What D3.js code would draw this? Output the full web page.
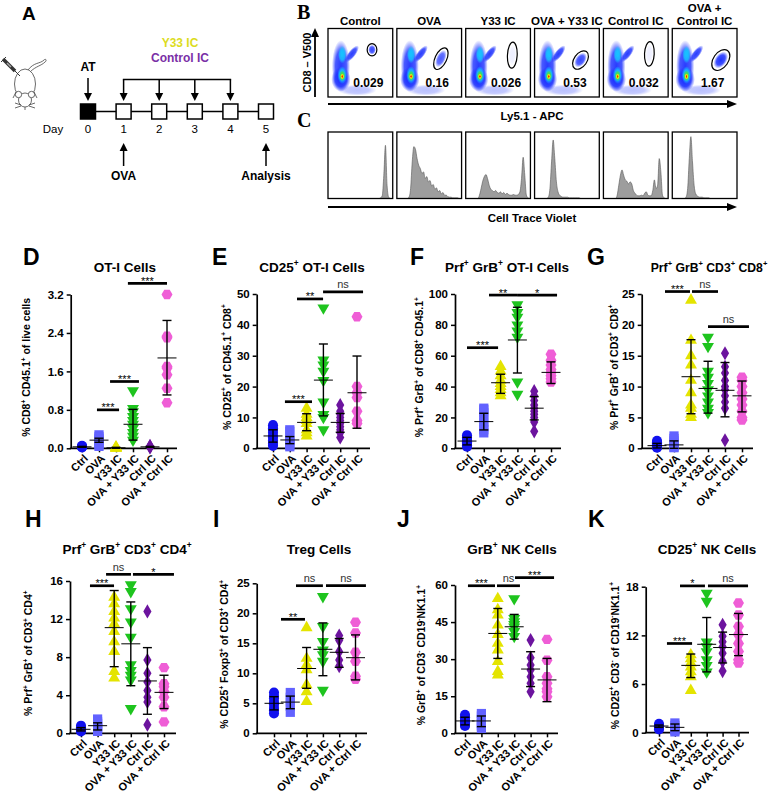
<!DOCTYPE html>
<html>
<head>
<meta charset="utf-8">
<script src="https://cdn.jsdelivr.net/npm/d3@7"></script>
<style>
body { margin: 0; background: #fff; }
svg { display: block; }
</style>
</head>
<body>
<svg id="fig" width="770" height="795"></svg>
<script>
// ---------- data ----------
const groups = ["Ctrl", "OVA", "Y33 IC", "OVA + Y33 IC", "Ctrl IC", "OVA + Ctrl IC"];
const flowGroups = ["Control", "OVA", "Y33 IC", "OVA + Y33 IC", "Control IC", "OVA + Control IC"];
const gatePct = ["0.029", "0.16", "0.026", "0.53", "0.032", "1.67"];

// timeline (panel A)
const days = [0, 1, 2, 3, 4, 5];
const icDays = [1, 2, 3, 4];

// cell trace violet histograms (panel C), 40 bins each, relative height
const ctvHist = [
  [0,0,0,0,0,0,0,0,0,0,0,0,0,0,0,0,0,0,0,0,0,0,0,0,0,0,0,0,0,0,0,0,0.01,0.04,0.35,0.8,0.2,0.02,0,0],
  [0,0,0,0,0,0,0,0.02,0.15,0.55,0.78,0.74,0.6,0.5,0.45,0.38,0.4,0.3,0.33,0.25,0.27,0.19,0.21,0.14,0.16,0.1,0.12,0.07,0.09,0.05,0.05,0.03,0.02,0.02,0.01,0.01,0.01,0.01,0,0],
  [0,0,0,0,0,0,0,0,0.05,0.15,0.26,0.33,0.36,0.3,0.2,0.14,0.12,0.1,0.12,0.09,0.08,0.1,0.07,0.09,0.06,0.08,0.06,0.05,0.05,0.06,0.05,0.05,0.06,0.1,0.3,0.62,0.35,0.05,0.01,0],
  [0,0,0,0,0,0,0,0,0.02,0.15,0.55,0.88,0.6,0.25,0.1,0.05,0.03,0.02,0.02,0.02,0.02,0.01,0.01,0.01,0.01,0.01,0.01,0.01,0,0,0,0,0,0,0,0,0,0,0,0],
  [0,0,0,0,0,0,0,0,0.05,0.2,0.35,0.43,0.35,0.28,0.26,0.22,0.25,0.22,0.12,0.08,0.05,0.04,0.04,0.05,0.04,0.08,0.1,0.05,0.04,0.04,0.12,0.28,0.15,0.2,0.6,0.4,0.05,0.01,0,0],
  [0,0,0,0,0,0,0,0,0.02,0.15,0.6,0.93,0.55,0.2,0.07,0.04,0.02,0.02,0.02,0.01,0.01,0.01,0.01,0,0,0,0,0,0,0,0,0,0,0,0,0,0,0,0,0]
];

// D  OT-I cells
const otiVals = [
  [0.04, 0.03, 0.03, 0.02, 0.05],
  [0.28, 0.24, 0.2, 0.16, 0.12, 0.08, 0.04],
  [0.03, 0.02, 0.01, 0, 0],
  [1.2, 0.83, 0.76, 0.66, 0.58, 0.5, 0.42, 0.33, 0.25, 0.17],
  [0.04, 0.03, 0.02, 0.05],
  [3.2, 2.33, 2.3, 1.7, 1.67, 1.53, 1.25, 0.95]
];
const otiMean = [0.03, 0.17, 0.01, 0.5, 0.03, 1.88];
const otiSd = [[0.02, 0.04], [0.125, 0.21], [0, 0.02], [0.17, 0.81], [0.02, 0.04], [1.11, 2.66]];
const otiSig = [[0.88, 2.18, 0.8, "***"], [1.65, 3.35, 1.39, "***"], [2.7, 5.0, 3.43, "***"]];

// E  CD25+ OT-I cells
const cd25Vals = [
  [7.5, 6.5, 6, 5, 4, 3.5, 2.5, 1.5, 0.8],
  [6, 5.5, 3, 2.5, 2, 1, 0.5],
  [13, 11, 10, 9, 8, 6, 5, 4],
  [45.5, 28.6, 27, 25, 22, 15, 11, 10, 6],
  [14, 12, 11, 10, 9, 8, 7, 6, 5, 3.5],
  [42.6, 20, 18, 16.5, 12, 9, 8]
];
const cd25Mean = [4, 2.7, 8.4, 22.1, 8.4, 18];
const cd25Sd = [[2, 6], [1.5, 3.8], [5.7, 11.2], [10.5, 33.8], [5.2, 11.3], [6.5, 29.9]];
const cd25Sig = [[0.71, 2.32, 15.1, "***"], [1.43, 2.98, 48.4, "**"], [2.98, 5.36, 50.7, "ns"]];

// F  Prf+ GrB+ OT-I cells
const prfOtiVals = [
  [8.5, 7, 6, 5, 4, 3, 2, 1],
  [26, 25, 23, 20, 17, 14, 12, 10],
  [53, 50, 47, 44, 42, 40, 38, 36, 34],
  [93, 88, 85, 80, 76, 72, 43, 35],
  [37, 34, 31, 28, 26, 24, 22, 20, 17, 11],
  [61, 57, 54, 51, 49, 47, 45, 43]
];
const prfOtiMean = [4.7, 17.3, 42.5, 70.2, 26, 49.2];
const prfOtiSd = [[2.2, 7.1], [11.9, 22.7], [35.6, 48], [48.8, 91.4], [18.4, 33.5], [42, 56]];
const prfOtiSig = [[0, 1.85, 65.2, "***"], [1.31, 2.98, 99.3, "**"], [2.98, 5.36, 99.3, "*"]];

// G  Prf+ GrB+ CD3+ CD8+
const prfCd8Vals = [
  [1.2, 1, 0.8, 0.6, 0.4, 0.3, 0.2, 0.1],
  [2, 1.6, 1.2, 0.8, 0.5, 0.2, 0.1],
  [24, 17.5, 15, 13.5, 11, 9, 7, 6.5, 5.5, 5],
  [18, 16.5, 12.5, 11.5, 10.5, 9.5, 8.5, 7.5, 6.5, 5.8],
  [15.4, 13.2, 12.2, 11, 10, 9.5, 8.5, 7.5, 6.5, 1.3],
  [11.5, 11, 10, 9, 8, 7, 6, 5, 4.6]
];
const prfCd8Mean = [0.43, 0.55, 11.6, 9.7, 9.4, 8.5];
const prfCd8Sd = [[0.05, 0.8], [0, 1.2], [5.6, 17.6], [5.7, 14.1], [5.1, 13.9], [5.9, 10.9]];
const prfCd8Sig = [[0.47, 1.94, 25.4, "***"], [2.06, 3.59, 25.4, "ns"], [3.0, 5.41, 19.7, "ns"]];

// H  Prf+ GrB+ CD3+ CD4+
const prfCd4Vals = [
  [0.8, 0.6, 0.5, 0.4, 0.3, 0.2],
  [1.5, 1.2, 1, 0.7, 0.5, 0.2],
  [14.3, 13.6, 12.8, 12.1, 11.5, 10.7, 9.6, 8.6, 6.5, 5.8],
  [15.6, 14.9, 13.1, 11.7, 10.1, 7.2, 6.6, 6.1, 5.6, 2.6],
  [12.8, 7.7, 6.3, 5.4, 4.5, 3.8, 3.3, 0.9],
  [6.9, 5.2, 4.9, 4.4, 3.8, 2.8, 1.2]
];
const prfCd4Mean = [0.42, 0.8, 11.1, 9.4, 5.5, 4.3];
const prfCd4Sd = [[0.25, 0.6], [0.35, 1.1], [7, 15], [5, 13.8], [2, 9], [2.6, 6.1]];
const prfCd4Sig = [[0.54, 1.99, 15.5, "***"], [1.51, 3.01, 16.7, "ns"], [3.13, 5.6, 16.7, "*"]];

// I  Treg cells
const tregVals = [
  [6.8, 6.2, 5.8, 5.2, 4.8, 4.2, 3.8, 3.3],
  [6.8, 6, 5.2, 4.5, 3.5],
  [17.6, 12.5, 11.4, 10.6, 8.1, 6.9, 5.3],
  [22.8, 17.8, 15.3, 13.9, 13.1, 12, 7.2],
  [16.3, 15.5, 13.6, 12.2, 11.2],
  [18.5, 16.7, 13.5, 12, 9.5, 9]
];
const tregMean = [5, 5.2, 10.8, 14, 13.5, 12.6];
const tregSd = [[3.9, 6.1], [4.1, 6.2], [7.5, 14.3], [9.6, 18.4], [11, 15.8], [8.9, 16.4]];
const tregSig = [[0.43, 1.9, 19, "**"], [1.35, 3.0, 24.6, "ns"], [3.19, 5.64, 24.6, "ns"]];

// J  GrB+ NK cells
const grbNkVals = [
  [7.5, 6.5, 5.8, 5, 4.5, 3.8, 3],
  [8, 7, 5.5, 4, 3, 2],
  [54.5, 50, 47.8, 43.8, 40, 36.4, 33.7, 29, 25, 23.6],
  [54.5, 46.5, 45.2, 44, 43, 41.2, 39.2],
  [37.7, 30.6, 27.6, 25.6, 22.9, 20.2, 16.8],
  [38, 29.6, 22.9, 20.2, 18, 16.8, 14.8]
];
const grbNkMean = [5, 5, 40.4, 43.1, 26, 21.6];
const grbNkSd = [[3.4, 6.5], [2.7, 7], [30.3, 50.5], [38.1, 48.1], [18.9, 33], [12.8, 30.3]];
const grbNkSig = [[0.18, 1.83, 59.7, "***"], [1.95, 3.35, 59.7, "ns"], [3.05, 5.43, 63, "***"]];

// K  CD25+ NK cells
const cd25NkVals = [
  [1.1, 0.9, 0.8, 0.6, 0.4],
  [1.2, 0.9, 0.6, 0.3, 0.1],
  [9.6, 9.1, 8.6, 8.1, 7.5, 6.9, 5.2],
  [17.2, 16.2, 11.2, 10.6, 10, 9, 8.3, 7.5],
  [13.3, 11.9, 11.2, 10.6, 9.8, 8.8, 7.6],
  [16, 14.5, 13.1, 12.1, 11, 10, 9, 8.6]
];
const cd25NkMean = [0.82, 0.66, 8.3, 10.9, 10.5, 12.1];
const cd25NkSd = [[0.66, 0.95], [0.25, 1.07], [6.8, 9.7], [7.5, 14.2], [8.6, 12.4], [9.5, 14.7]];
const cd25NkSig = [[0.5, 2.08, 11.0, "***"], [1.32, 2.89, 18.1, "*"], [3.08, 5.6, 18.1, "ns"]];

const panels = [
  { letter: "D", title: "OT-I Cells", ylab: "% CD8^+ CD45.1^+ of live cells", max: 3.2, ticks: [0, 0.8, 1.6, 2.4, 3.2], fmt: ".1f", vals: otiVals, mean: otiMean, sd: otiSd, sig: otiSig },
  { letter: "E", title: "CD25^+ OT-I Cells", ylab: "% CD25^+ of CD45.1^+ CD8^+", max: 50, ticks: [0, 10, 20, 30, 40, 50], fmt: "d", vals: cd25Vals, mean: cd25Mean, sd: cd25Sd, sig: cd25Sig },
  { letter: "F", title: "Prf^+ GrB^+ OT-I Cells", ylab: "% Prf^+ GrB^+ of CD8^+ CD45.1^+", max: 100, ticks: [0, 20, 40, 60, 80, 100], fmt: "d", vals: prfOtiVals, mean: prfOtiMean, sd: prfOtiSd, sig: prfOtiSig },
  { letter: "G", title: "Prf^+ GrB^+ CD3^+ CD8^+", ylab: "% Prf^+ GrB^+ of CD3^+ CD8^+", max: 25, ticks: [0, 5, 10, 15, 20, 25], fmt: "d", vals: prfCd8Vals, mean: prfCd8Mean, sd: prfCd8Sd, sig: prfCd8Sig },
  { letter: "H", title: "Prf^+ GrB^+ CD3^+ CD4^+", ylab: "% Prf^+ GrB^+ of CD3^+ CD4^+", max: 16, ticks: [0, 4, 8, 12, 16], fmt: "d", vals: prfCd4Vals, mean: prfCd4Mean, sd: prfCd4Sd, sig: prfCd4Sig },
  { letter: "I", title: "Treg Cells", ylab: "% CD25^+ Foxp3^+ of CD3^+ CD4^+", max: 25, ticks: [0, 5, 10, 15, 20, 25], fmt: "d", vals: tregVals, mean: tregMean, sd: tregSd, sig: tregSig },
  { letter: "J", title: "GrB^+ NK Cells", ylab: "% GrB^+ of CD3^- CD19^-NK1.1^+", max: 60, ticks: [0, 15, 30, 45, 60], fmt: "d", vals: grbNkVals, mean: grbNkMean, sd: grbNkSd, sig: grbNkSig },
  { letter: "K", title: "CD25^+ NK Cells", ylab: "% CD25^+ CD3^- of CD19^-NK1.1^+", max: 18, ticks: [0, 6, 12, 18], fmt: "d", vals: cd25NkVals, mean: cd25NkMean, sd: cd25NkSd, sig: cd25NkSig }
];

// ---------- layout / style ----------
const SANS = "'Liberation Sans', Arial, Helvetica, sans-serif";
const SERIF = "'Liberation Serif', 'Times New Roman', serif";
const colors = ["#1212ee", "#6262ff", "#e4e400", "#1ec41e", "#6c149e", "#ef5ed6"];
const hexagon = {
  draw(ctx, size) {
    const r = Math.sqrt(size / (3 * Math.sqrt(3) / 2));
    for (let i = 0; i < 6; i++) {
      const a = Math.PI / 3 * i;
      if (i) ctx.lineTo(r * Math.cos(a), r * Math.sin(a)); else ctx.moveTo(r * Math.cos(a), r * Math.sin(a));
    }
    ctx.closePath();
  }
};
const shapes = [d3.symbolCircle, d3.symbolSquare, d3.symbolTriangle, d3.symbolTriangle, d3.symbolDiamond, hexagon];
const shapeSize = [80, 85, 62, 62, 58, 78];
const shapeRot = [0, 0, 0, 180, 0, 0];

const layout = [
  { ax: 70.7, c0: 82, step: 17, top: 294.5, bot: 448.3, end: 177, labX: 30, titleX: 125, titleY: 271.5, titleFs: 13.5, letX: 23, letY: 265 },
  { ax: 256.7, c0: 273, step: 16.8, top: 294, bot: 448.3, end: 370, labX: 230.5, titleX: 312, titleY: 271.5, titleFs: 13.5, letX: 212, letY: 265 },
  { ax: 455, c0: 467, step: 16.8, top: 294, bot: 448.3, end: 561, labX: 423, titleX: 507, titleY: 271.5, titleFs: 13.5, letX: 410, letY: 265 },
  { ax: 641.7, c0: 657, step: 17, top: 294, bot: 448.3, end: 753, labX: 617.5, titleX: 709, titleY: 271.5, titleFs: 12.2, letX: 587, letY: 265 },
  { ax: 70, c0: 81, step: 16.6, top: 581, bot: 733.3, end: 176, labX: 32, titleX: 127, titleY: 554, titleFs: 13.5, letX: 25, letY: 527 },
  { ax: 256.7, c0: 274, step: 16.3, top: 583.3, bot: 733.3, end: 367, labX: 228, titleX: 319, titleY: 554, titleFs: 13.5, letX: 213, letY: 527 },
  { ax: 455, c0: 465, step: 16.4, top: 585, bot: 733.3, end: 558, labX: 425, titleX: 512, titleY: 554, titleFs: 13.5, letX: 397, letY: 527 },
  { ax: 645.7, c0: 659, step: 15.9, top: 586.7, bot: 732.7, end: 749, labX: 618.5, titleX: 707, titleY: 554, titleFs: 13.5, letX: 588, letY: 527 }
];

const svg = d3.select("#fig").attr("font-family", SANS);
const defs = svg.append("defs");

// text with ^+ / ^- superscripts
function rich(textSel, str, fs) {
  const parts = str.split(/(\^[+-])/);
  let up = false;
  parts.forEach(p => {
    if (!p) return;
    if (p[0] === "^") {
      textSel.append("tspan").attr("font-size", fs * 0.62).attr("dy", up ? 0 : -fs * 0.42).text(p[1] === "-" ? "-" : "+");
      up = true;
    } else {
      textSel.append("tspan").attr("dy", up ? fs * 0.42 : 0).text(p);
      up = false;
    }
  });
}

function arrow(g, x1, y1, x2, y2, w, len, sw) {
  const ang = Math.atan2(y2 - y1, x2 - x1);
  const bx = x2 - len * Math.cos(ang), by = y2 - len * Math.sin(ang);
  g.append("line").attr("x1", x1).attr("y1", y1).attr("x2", bx).attr("y2", by)
    .attr("stroke", "#000").attr("stroke-width", sw);
  const px = -Math.sin(ang) * w / 2, py = Math.cos(ang) * w / 2;
  g.append("path").attr("d", `M${x2},${y2}L${bx + px},${by + py}L${bx - px},${by - py}Z`).attr("fill", "#000");
}

// ---------- panel A ----------
const pa = svg.append("g");
pa.append("text").attr("x", 22).attr("y", 19.5).attr("font-size", 19).attr("font-weight", "bold").text("A");

// mouse with syringe
const mouse = pa.append("g").attr("fill", "#fff").attr("stroke", "#444").attr("stroke-width", 0.8);
mouse.append("path").attr("d", "M28,70 C34,62 40,64 44,60 C46,58 47,61 45,62 C41,66 36,66 30,72").attr("fill", "none");
mouse.append("ellipse").attr("cx", 25).attr("cy", 84).attr("rx", 10.5).attr("ry", 15);
mouse.append("ellipse").attr("cx", 25).attr("cy", 100).attr("rx", 6.5).attr("ry", 7);
mouse.append("circle").attr("cx", 18.5).attr("cy", 94.5).attr("r", 3.2);
mouse.append("circle").attr("cx", 31.5).attr("cy", 94.5).attr("r", 3.2);
mouse.append("path").attr("d", "M21,105 L15,103 M21,106 L15,108 M29,105 L35,103 M29,106 L35,108 M25,107 L25,110").attr("fill", "none");
mouse.append("path").attr("d", "M16,92 L13,98 M34,92 L37,98").attr("fill", "none");
pa.append("line").attr("x1", 3).attr("y1", 59).attr("x2", 15).attr("y2", 71).attr("stroke", "#333").attr("stroke-width", 3.5);
pa.append("line").attr("x1", 15).attr("y1", 71).attr("x2", 20).attr("y2", 76).attr("stroke", "#333").attr("stroke-width", 1);
pa.append("line").attr("x1", 1).attr("y1", 62).attr("x2", 6).attr("y2", 57).attr("stroke", "#333").attr("stroke-width", 1);
pa.append("line").attr("x1", 7).attr("y1", 63).attr("x2", 11).attr("y2", 67).attr("stroke", "#aaa").attr("stroke-width", 1.5);

const dayX = d3.scaleLinear().domain([0, 5]).range([88, 266]);
const tlY = 111.5, sq = 15;
pa.append("line").attr("x1", dayX(0)).attr("x2", dayX(5)).attr("y1", tlY).attr("y2", tlY)
  .attr("stroke", "#000").attr("stroke-width", 1.5);
pa.selectAll("rect.day").data(days).join("rect").attr("class", "day")
  .attr("x", d => dayX(d) - sq / 2).attr("y", tlY - sq / 2).attr("width", sq).attr("height", sq)
  .attr("fill", d => d === 0 ? "#000" : "#fff").attr("stroke", "#000").attr("stroke-width", 1.5);
pa.selectAll("text.dayl").data(days).join("text").attr("class", "dayl")
  .attr("x", d => dayX(d)).attr("y", 133).attr("text-anchor", "middle").attr("font-size", 11.5).text(d => d);
pa.append("text").attr("x", 53).attr("y", 133).attr("text-anchor", "middle").attr("font-size", 11.5).text("Day");
pa.append("text").attr("x", dayX(0)).attr("y", 70.5).attr("text-anchor", "middle").attr("font-size", 12).attr("font-weight", "bold").text("AT");
arrow(pa, dayX(0), 78, dayX(0), 101, 8, 8, 1.5);
pa.append("line").attr("x1", dayX(icDays[0]) - 0.75).attr("x2", dayX(icDays[icDays.length - 1]) + 0.75)
  .attr("y1", 79.5).attr("y2", 79.5).attr("stroke", "#000").attr("stroke-width", 1.5);
icDays.forEach(d => arrow(pa, dayX(d), 79.5, dayX(d), 101, 8, 8, 1.5));
pa.append("text").attr("x", 180).attr("y", 46.5).attr("text-anchor", "middle").attr("font-size", 12)
  .attr("font-weight", "bold").attr("fill", "#dcdc1e").text("Y33 IC");
pa.append("text").attr("x", 180).attr("y", 61.5).attr("text-anchor", "middle").attr("font-size", 12)
  .attr("font-weight", "bold").attr("fill", "#7a2fa6").text("Control IC");
arrow(pa, dayX(1), 166, dayX(1), 143, 8, 8, 1.5);
arrow(pa, dayX(5), 166, dayX(5), 143, 8, 8, 1.5);
pa.append("text").attr("x", dayX(1)).attr("y", 180).attr("text-anchor", "middle").attr("font-size", 12).attr("font-weight", "bold").text("OVA");
pa.append("text").attr("x", dayX(5)).attr("y", 180).attr("text-anchor", "middle").attr("font-size", 12).attr("font-weight", "bold").text("Analysis");

// ---------- panels B & C ----------
const boxX = d3.scaleBand().domain(flowGroups).range([328, 737]).paddingInner(0.06);
const bw = boxX.bandwidth();
const bTop = 28.5, bBot = 97, cTop = 132, cBot = 198.5;

const blobColors = { blue: "#1e32ff", lblue: "#6474ff", cyan: "#18c0ff", green: "#40e050", yellow: "#ffe800", red: "#ff1a00" };
Object.entries(blobColors).forEach(([k, c]) => {
  const rg = defs.append("radialGradient").attr("id", "rg-" + k);
  rg.append("stop").attr("offset", "0%").attr("stop-color", c).attr("stop-opacity", 1);
  rg.append("stop").attr("offset", "60%").attr("stop-color", c).attr("stop-opacity", 0.85);
  rg.append("stop").attr("offset", "100%").attr("stop-color", c).attr("stop-opacity", 0);
});
// population shape inside every dot plot: [cx, cy, rx, ry, rotation, colour, opacity]
const popBlobs = [
  [0.45, 0.9, 0.3, 0.08, 0, "lblue", 0.45],
  [0.2, 0.55, 0.14, 0.38, 0, "blue", 0.95],
  [0.2, 0.74, 0.15, 0.18, 0, "blue", 1],
  [0.37, 0.37, 0.16, 0.055, -52, "blue", 0.95],
  [0.22, 0.38, 0.065, 0.13, 0, "cyan", 1],
  [0.22, 0.37, 0.03, 0.06, 0, "cyan", 1],
  [0.22, 0.68, 0.075, 0.13, 0, "cyan", 1],
  [0.22, 0.69, 0.05, 0.08, 0, "green", 1],
  [0.22, 0.7, 0.032, 0.045, 0, "yellow", 1],
  [0.22, 0.7, 0.016, 0.022, 0, "red", 1]
];
const gateCx = [0.68, 0.68, 0.72, 0.71, 0.71, 0.75];
const gateCy = [0.31, 0.44, 0.39, 0.46, 0.37, 0.46];
const gateRx = [0.075, 0.09, 0.075, 0.1, 0.075, 0.115];
const gateRy = [0.09, 0.17, 0.19, 0.15, 0.18, 0.17];
const gateRot = [0, 25, 3, 35, 3, 35];
const gateFill = [0.9, 0.8, 0.08, 0.9, 0.08, 1];

const pb = svg.append("g");
pb.append("text").attr("x", 297).attr("y", 19).attr("font-family", SERIF).attr("font-size", 20).attr("font-weight", "bold").text("B");
pb.append("text").attr("x", 297).attr("y", 127).attr("font-family", SERIF).attr("font-size", 20).attr("font-weight", "bold").text("C");

flowGroups.forEach((gname, i) => {
  const x0 = boxX(gname);
  const fx = d3.scaleLinear().domain([0, 1]).range([x0, x0 + bw]);
  const fy = d3.scaleLinear().domain([0, 1]).range([bTop, bBot]);
  const cid = "clipB" + i;
  defs.append("clipPath").attr("id", cid).append("rect").attr("x", x0).attr("y", bTop).attr("width", bw).attr("height", bBot - bTop);
  const g = pb.append("g");
  const inner = g.append("g").attr("clip-path", `url(#${cid})`);
  popBlobs.forEach(b => {
    inner.append("ellipse").attr("cx", 0).attr("cy", 0).attr("rx", b[2] * bw).attr("ry", b[3] * (bBot - bTop))
      .attr("transform", `translate(${fx(b[0])},${fy(b[1])}) rotate(${b[4]})`)
      .attr("fill", `url(#rg-${b[5]})`).attr("opacity", b[6]);
  });
  inner.append("ellipse").attr("rx", gateRx[i] * bw * 0.8).attr("ry", gateRy[i] * (bBot - bTop) * 0.8)
    .attr("transform", `translate(${fx(gateCx[i])},${fy(gateCy[i])}) rotate(${gateRot[i]})`)
    .attr("fill", "url(#rg-blue)").attr("opacity", gateFill[i]);
  g.append("ellipse").attr("rx", gateRx[i] * bw).attr("ry", gateRy[i] * (bBot - bTop))
    .attr("transform", `translate(${fx(gateCx[i])},${fy(gateCy[i])}) rotate(${gateRot[i]})`)
    .attr("fill", "none").attr("stroke", "#000").attr("stroke-width", 1.2);
  g.append("rect").attr("x", x0).attr("y", bTop).attr("width", bw).attr("height", bBot - bTop)
    .attr("fill", "none").attr("stroke", "#000").attr("stroke-width", 1.3);
  g.append("text").attr("x", x0 + bw / 2 + 8).attr("y", 87).attr("text-anchor", "middle")
    .attr("font-size", 12).attr("font-weight", "bold").text(gatePct[i]);
  // title (wrap the long one)
  const t = g.append("text").attr("x", x0 + bw / 2).attr("text-anchor", "middle").attr("font-size", 11.5).attr("font-weight", "bold");
  if (gname.length > 14) {
    t.attr("y", 11.5).text("OVA +");
    g.append("text").attr("x", x0 + bw / 2).attr("y", 24.5).attr("text-anchor", "middle").attr("font-size", 11.5)
      .attr("font-weight", "bold").text("Control IC");
  } else {
    t.attr("y", 24.5).text(gname);
  }

  // histogram
  const hx = d3.scaleLinear().domain([0, ctvHist[i].length]).range([x0, x0 + bw]);
  const hy = d3.scaleLinear().domain([0, 1]).range([cBot, cTop]);
  const pts = ctvHist[i].map((v, k) => [k + 0.5, v]);
  pts.unshift([0, 0]); pts.push([ctvHist[i].length, 0]);
  const area = d3.area().x(d => hx(d[0])).y0(cBot).y1(d => hy(d[1])).curve(d3.curveMonotoneX);
  g.append("path").datum(pts).attr("d", area).attr("fill", "#9d9d9d").attr("stroke", "#555").attr("stroke-width", 0.6);
  g.append("rect").attr("x", x0).attr("y", cTop).attr("width", bw).attr("height", cBot - cTop)
    .attr("fill", "none").attr("stroke", "#000").attr("stroke-width", 1.3);
});
arrow(pb, 315, 97, 315, 28, 8, 9, 1.8);
pb.append("text").attr("transform", "translate(311,62.5) rotate(-90)").attr("text-anchor", "middle")
  .attr("font-size", 11).attr("font-weight", "bold").text("CD8 – V500");
arrow(pb, 328, 104, 737, 104, 8, 10, 1.8);
pb.append("text").attr("x", 532).attr("y", 120).attr("text-anchor", "middle").attr("font-size", 11.5).attr("font-weight", "bold").text("Ly5.1 - APC");
arrow(pb, 328, 207, 737, 207, 8, 10, 1.8);
pb.append("text").attr("x", 532).attr("y", 222).attr("text-anchor", "middle").attr("font-size", 11.5).attr("font-weight", "bold").text("Cell Trace Violet");

// ---------- scatter panels D-K ----------
panels.forEach((p, pi) => {
  const L = layout[pi];
  const g = svg.append("g");
  const y = d3.scaleLinear().domain([0, p.max]).range([L.bot, L.top]);
  const x = d3.scaleLinear().domain([0, 5]).range([L.c0, L.c0 + 5 * L.step]);

  g.append("text").attr("x", L.letX).attr("y", L.letY).attr("font-size", 23).attr("font-weight", "bold").text(p.letter);
  rich(g.append("text").attr("x", L.titleX).attr("y", L.titleY).attr("text-anchor", "middle")
    .attr("font-size", L.titleFs).attr("font-weight", "bold"), p.title, L.titleFs);
  rich(g.append("text").attr("transform", `translate(${L.labX},${(L.top + L.bot) / 2 - 4}) rotate(-90)`)
    .attr("text-anchor", "middle").attr("font-size", 10.5).attr("font-weight", "bold"), p.ylab, 10.5);

  const ya = g.append("g").attr("transform", `translate(${L.ax},0)`)
    .call(d3.axisLeft(y).tickValues(p.ticks).tickFormat(d3.format(p.fmt)).tickSize(4).tickSizeOuter(0));
  ya.select(".domain").attr("stroke-width", 1.7);
  ya.selectAll(".tick line").attr("stroke-width", 1.5);
  ya.selectAll(".tick text").attr("font-size", 11.5).attr("font-weight", "bold").attr("font-family", SANS).attr("fill", "#000");

  const xa = g.append("g").attr("transform", `translate(0,${L.bot})`)
    .call(d3.axisBottom(x).tickValues(d3.range(groups.length)).tickFormat("").tickSize(4).tickSizeOuter(0));
  xa.select(".domain").attr("d", `M${L.ax - 0.85},0H${L.end}`).attr("stroke-width", 1.7);
  xa.selectAll(".tick line").attr("stroke-width", 1.5);
  g.selectAll("text.xl").data(groups).join("text").attr("class", "xl")
    .attr("transform", (d, i) => `translate(${x(i) + 4},${L.bot + 8}) rotate(-45)`)
    .attr("text-anchor", "end").attr("dy", "0.35em").attr("font-size", 11).attr("font-weight", "bold").text(d => d);

  // points
  p.vals.forEach((vals, gi) => {
    g.selectAll(null).data(vals).join("path")
      .attr("d", d3.symbol().type(shapes[gi]).size(shapeSize[gi]))
      .attr("transform", d => `translate(${x(gi)},${y(d)}) rotate(${shapeRot[gi]})`)
      .attr("fill", colors[gi]);
  });
  // mean and SD
  p.mean.forEach((m, gi) => {
    const cx = x(gi);
    g.append("line").attr("x1", cx - 9.5).attr("x2", cx + 9.5).attr("y1", y(m)).attr("y2", y(m)).attr("stroke", "#000").attr("stroke-width", 1);
    g.append("line").attr("x1", cx).attr("x2", cx).attr("y1", y(p.sd[gi][0])).attr("y2", y(p.sd[gi][1])).attr("stroke", "#000").attr("stroke-width", 1.4);
    p.sd[gi].forEach(v => g.append("line").attr("x1", cx - 4.5).attr("x2", cx + 4.5).attr("y1", y(v)).attr("y2", y(v))
      .attr("stroke", "#000").attr("stroke-width", 1.4));
  });
  // significance bars
  p.sig.forEach(s => {
    const yy = y(s[2]);
    g.append("line").attr("x1", x(s[0])).attr("x2", x(s[1])).attr("y1", yy).attr("y2", yy).attr("stroke", "#000").attr("stroke-width", 2.7);
    const stars = s[3] !== "ns";
    g.append("text").attr("x", (x(s[0]) + x(s[1])) / 2).attr("y", stars ? yy + 1.5 : yy - 3.5)
      .attr("text-anchor", "middle").attr("font-size", 11).attr("fill", stars ? "#000" : "#333")
      .text(s[3]);
  });
});
</script>
</body>
</html>
